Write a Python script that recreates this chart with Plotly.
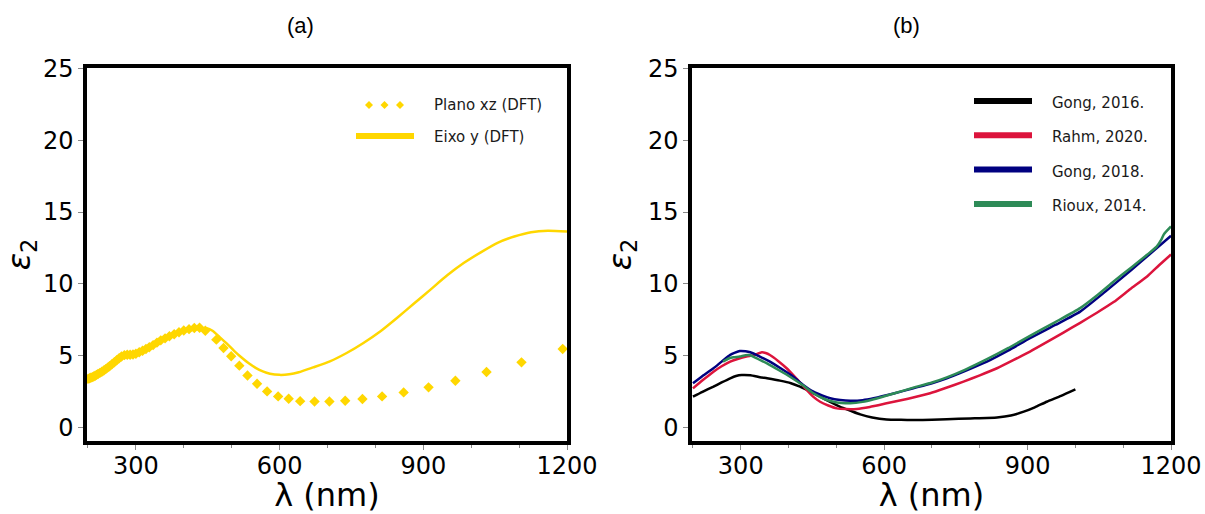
import plotly.graph_objects as go

# ---------------- data ----------------
# Panel (a): DFT results
xz_lambda = [200, 203, 206, 209, 212, 215, 218, 221, 225, 229, 233, 237, 241, 245, 250, 255, 260, 265,
             270, 276, 282, 288, 294, 300, 307, 314, 321, 328, 336, 344, 352, 361, 370, 380, 390, 400,
             411, 422, 433, 445, 468, 483, 499, 516, 533, 553, 574, 597, 619, 643, 673, 704, 737, 773,
             814, 859, 911, 967, 1032, 1105, 1191]
xz_eps2 = [3.40, 3.44, 3.48, 3.52, 3.57, 3.62, 3.68, 3.74, 3.82, 3.90, 3.98, 4.08, 4.18, 4.28, 4.42, 4.56,
           4.70, 4.84, 4.96, 5.05, 5.08, 5.08, 5.10, 5.15, 5.25, 5.36, 5.48, 5.60, 5.75, 5.92, 6.08, 6.22,
           6.36, 6.50, 6.64, 6.76, 6.86, 6.94, 6.96, 6.75, 6.13, 5.55, 4.97, 4.32, 3.64, 3.06, 2.53, 2.18,
           2.02, 1.85, 1.83, 1.83, 1.88, 2.00, 2.18, 2.46, 2.81, 3.27, 3.88, 4.55, 5.48]

y_lambda = [200, 210, 220, 230, 240, 250, 260, 270, 280, 290, 300, 315, 330, 345, 360, 375, 390, 405, 420,
            435, 448, 460, 475, 490, 505, 520, 535, 550, 565, 580, 600, 620, 640, 670, 705, 740, 775, 810,
            845, 880, 915, 950, 985, 1020, 1055, 1090, 1125, 1160, 1200]
y_eps2 = [3.35, 3.50, 3.70, 3.90, 4.15, 4.42, 4.70, 4.95, 5.05, 5.08, 5.15, 5.35, 5.65, 5.95, 6.20, 6.40,
          6.58, 6.72, 6.82, 6.90, 6.92, 6.75, 6.30, 5.85, 5.35, 4.90, 4.50, 4.17, 3.92, 3.76, 3.68, 3.72,
          3.86, 4.20, 4.62, 5.20, 5.90, 6.70, 7.64, 8.62, 9.61, 10.60, 11.47, 12.20, 12.86, 13.30, 13.60,
          13.70, 13.65]

# Panel (b): literature
gong16_lambda = [200, 220, 243, 260, 278, 290, 302, 320, 340, 355, 382, 405, 424, 445, 466, 487, 508, 530,
                 550, 575, 605, 635, 661, 700, 731, 780, 836, 865, 892, 915, 940, 970, 1000]
gong16_eps2 = [2.16, 2.50, 2.86, 3.15, 3.44, 3.60, 3.67, 3.65, 3.52, 3.44, 3.28, 3.10, 2.86, 2.52, 2.16,
               1.80, 1.46, 1.18, 0.93, 0.72, 0.58, 0.55, 0.54, 0.56, 0.60, 0.65, 0.72, 0.85, 1.12, 1.42,
               1.81, 2.22, 2.67]

rahm20_lambda = [200, 220, 243, 260, 278, 295, 312, 328, 344, 352, 361, 378, 396, 417, 438, 452, 466, 483,
                 501, 520, 543, 570, 605, 650, 696, 730, 766, 800, 836, 870, 905, 940, 975, 1010, 1045,
                 1080, 1115, 1150, 1175, 1200]
rahm20_eps2 = [2.74, 3.30, 3.90, 4.28, 4.60, 4.80, 4.95, 5.05, 5.25, 5.20, 5.06, 4.65, 4.14, 3.40, 2.63,
               2.15, 1.81, 1.55, 1.35, 1.30, 1.31, 1.45, 1.70, 2.02, 2.40, 2.78, 3.21, 3.65, 4.14, 4.70,
               5.30, 5.95, 6.62, 7.30, 8.00, 8.74, 9.65, 10.52, 11.30, 12.05]

gong18_lambda = [200, 220, 243, 260, 278, 298, 310, 320, 340, 361, 385, 410, 430, 452, 470, 487, 508, 529,
                 555, 578, 620, 661, 700, 731, 770, 815, 860, 905, 958, 1010, 1062, 1115, 1160, 1200]
gong18_eps2 = [3.09, 3.60, 4.14, 4.60, 5.07, 5.34, 5.32, 5.25, 4.95, 4.60, 4.10, 3.55, 3.00, 2.51, 2.25,
               2.05, 1.93, 1.88, 1.92, 2.05, 2.38, 2.75, 3.10, 3.44, 3.96, 4.60, 5.38, 6.23, 7.15, 8.08,
               9.45, 10.92, 12.20, 13.35]

rioux14_lambda = [263, 275, 285, 298, 310, 320, 335, 354, 380, 403, 430, 452, 475, 494, 510, 529, 555, 578,
                  620, 661, 700, 731, 770, 815, 860, 905, 958, 1010, 1045, 1080, 1115, 1150, 1170, 1180,
                  1185, 1200]
rioux14_eps2 = [4.60, 4.82, 4.90, 4.95, 5.05, 5.05, 4.80, 4.49, 4.00, 3.55, 2.95, 2.40, 2.00, 1.81, 1.73,
                1.70, 1.80, 1.98, 2.38, 2.79, 3.15, 3.51, 4.05, 4.77, 5.55, 6.39, 7.35, 8.32, 9.20, 10.17,
                11.10, 12.03, 12.60, 13.10, 13.45, 14.00]

panel_titles = ["(a)", "(b)"]
legend_a = ["Plano xz (DFT)", "Eixo y (DFT)"]
legend_b = ["Gong, 2016.", "Rahm, 2020.", "Gong, 2018.", "Rioux, 2014."]
x_ticks = [300, 600, 900, 1200]
y_ticks = [0, 5, 10, 15, 20, 25]

# ---------------- style ----------------
W, H = 1205, 514
GOLD = "#FFD700"
colors_b = ["#000000", "#DC143C", "#000080", "#2E8B57"]
FONT = "DejaVu Sans"


def px(x):
    return x / W


def py(y):
    return 1 - y / H


fig = go.Figure()

# Panel (a)
fig.add_trace(go.Scatter(x=xz_lambda, y=xz_eps2, mode="markers", name=legend_a[0],
                         marker=dict(symbol="diamond", size=8, color=GOLD, line=dict(width=0)),
                         xaxis="x", yaxis="y", showlegend=False))
fig.add_trace(go.Scatter(x=y_lambda, y=y_eps2, mode="lines", name=legend_a[1],
                         line=dict(color=GOLD, width=2.5, shape="spline", smoothing=0.6),
                         xaxis="x", yaxis="y", showlegend=False))

# Panel (b)
series_b = [(gong16_lambda, gong16_eps2), (rahm20_lambda, rahm20_eps2),
            (gong18_lambda, gong18_eps2), (rioux14_lambda, rioux14_eps2)]
for (xs, ys), name, col in zip(series_b, legend_b, colors_b):
    fig.add_trace(go.Scatter(x=xs, y=ys, mode="lines", name=name,
                             line=dict(color=col, width=2.5, shape="spline", smoothing=0.5),
                             xaxis="x2", yaxis="y2", showlegend=False))

axis_common = dict(
    showgrid=False, zeroline=False, showline=True, linecolor="black", linewidth=3.5, mirror=True,
    ticks="outside", ticklen=5, tickwidth=1, tickcolor="#888888", automargin=False,
    tickfont=dict(family=FONT, size=24, color="black"),
)
xdom_a = [px(87), px(567)]
xdom_b = [px(692), px(1171)]
ydom = [py(441), py(68)]

xaxis_kw = dict(axis_common, range=[198, 1200], tickvals=x_ticks, ticklabelstandoff=-5,
                minor=dict(dtick=100, tick0=0, ticks="outside", ticklen=3, tickcolor="#888888"),
                title=dict(text="λ (nm)", font=dict(family=FONT, size=32, color="black"), standoff=0))
yaxis_kw = dict(axis_common, range=[-0.92, 25.02], tickvals=y_ticks,
                title=dict(text="<i>ε</i><sub>2</sub>", font=dict(family=FONT, size=32, color="black"),
                           standoff=8))

fig.update_layout(
    width=W, height=H,
    margin=dict(l=0, r=0, t=0, b=0, autoexpand=False),
    paper_bgcolor="white", plot_bgcolor="white",
    showlegend=False,
    xaxis=dict(xaxis_kw, domain=xdom_a, anchor="y"),
    yaxis=dict(yaxis_kw, domain=ydom, anchor="x"),
    xaxis2=dict(xaxis_kw, domain=xdom_b, anchor="y2"),
    yaxis2=dict(yaxis_kw, domain=ydom, anchor="x2"),
)

annotations = []
shapes = []

# panel titles
for t, cx in zip(panel_titles, [300, 906]):
    annotations.append(dict(text=t, x=px(cx), y=py(25), xref="paper", yref="paper",
                            showarrow=False, xanchor="center", yanchor="middle",
                            font=dict(family="Liberation Sans", size=22, color="black")))

# legend (a)
for cx in [369, 384.5, 400]:
    shapes.append(dict(type="path", xref="paper", yref="paper", xsizemode="pixel", ysizemode="pixel",
                       xanchor=px(cx), yanchor=py(105), path="M 0 4 L 4 0 L 0 -4 L -4 0 Z",
                       fillcolor=GOLD, line=dict(width=0)))
shapes.append(dict(type="line", xref="paper", yref="paper", x0=px(356), x1=px(414), y0=py(136), y1=py(136),
                   line=dict(color=GOLD, width=6)))
for txt, yy in zip(legend_a, [105, 137]):
    annotations.append(dict(text=txt, x=px(432), y=py(yy), xref="paper", yref="paper", showarrow=False,
                            xanchor="left", yanchor="middle",
                            font=dict(family=FONT, size=15, color="#1a1a1a")))

# legend (b)
for i, (txt, col) in enumerate(zip(legend_b, colors_b)):
    yl = 101 + i * 34.3
    shapes.append(dict(type="line", xref="paper", yref="paper", x0=px(974), x1=px(1032), y0=py(yl), y1=py(yl),
                       line=dict(color=col, width=6)))
    annotations.append(dict(text=txt, x=px(1050), y=py(yl + 2), xref="paper", yref="paper", showarrow=False,
                            xanchor="left", yanchor="middle",
                            font=dict(family=FONT, size=15, color="#1a1a1a")))

fig.update_layout(annotations=annotations, shapes=shapes)
fig.write_html("out.html", config={"displayModeBar": False},
               post_script="document.body.style.margin='0';")
